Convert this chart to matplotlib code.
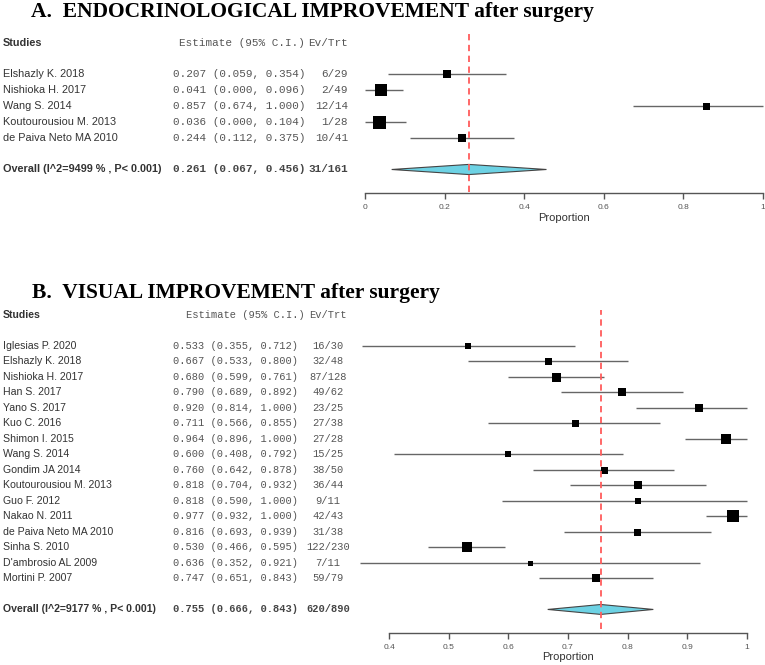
import matplotlib
matplotlib.use("Agg")
import matplotlib.pyplot as plt
from matplotlib.patches import Polygon
from matplotlib.transforms import blended_transform_factory

# ---- Panel A: endocrinological improvement ----
a_studies = ["Elshazly K. 2018", "Nishioka H. 2017", "Wang S. 2014",
             "Koutourousiou M. 2013", "de Paiva Neto MA 2010"]
a_est = [0.207, 0.041, 0.857, 0.036, 0.244]
a_lo = [0.059, 0.000, 0.674, 0.000, 0.112]
a_hi = [0.354, 0.096, 1.000, 0.104, 0.375]
a_ev = ["6/29", "2/49", "12/14", "1/28", "10/41"]
a_weight = [59, 161, 49, 169, 69]
a_overall = (0.261, 0.067, 0.456)
a_overall_ev = "31/161"
a_overall_label = "Overall (I^2=9499 % , P< 0.001)"
a_ticks = [0, 0.2, 0.4, 0.6, 0.8, 1]
a_ticklabels = ["0", "0.2", "0.4", "0.6", "0.8", "1"]

# ---- Panel B: visual improvement ----
b_studies = ["Iglesias P. 2020", "Elshazly K. 2018", "Nishioka H. 2017",
             "Han S. 2017", "Yano S. 2017", "Kuo C. 2016", "Shimon I. 2015",
             "Wang S. 2014", "Gondim JA 2014", "Koutourousiou M. 2013",
             "Guo F. 2012", "Nakao N. 2011", "de Paiva Neto MA 2010",
             "Sinha S. 2010", "D'ambrosio AL 2009", "Mortini P. 2007"]
b_est = [0.533, 0.667, 0.680, 0.790, 0.920, 0.711, 0.964, 0.600,
         0.760, 0.818, 0.818, 0.977, 0.816, 0.530, 0.636, 0.747]
b_lo = [0.355, 0.533, 0.599, 0.689, 0.814, 0.566, 0.896, 0.408,
        0.642, 0.704, 0.590, 0.932, 0.693, 0.466, 0.352, 0.651]
b_hi = [0.712, 0.800, 0.761, 0.892, 1.000, 0.855, 1.000, 0.792,
        0.878, 0.932, 1.000, 1.000, 0.939, 0.595, 0.921, 0.843]
b_ev = ["16/30", "32/48", "87/128", "49/62", "23/25", "27/38", "27/28",
        "15/25", "38/50", "36/44", "9/11", "42/43", "31/38", "122/230",
        "7/11", "59/79"]
b_weight = [40, 49, 81, 59, 64, 49, 106, 28, 49, 59, 32, 161, 49, 94, 25, 59]
b_overall = (0.755, 0.666, 0.843)
b_overall_ev = "620/890"
b_overall_label = "Overall (I^2=9177 % , P< 0.001)"
b_ticks = [0.4, 0.5, 0.6, 0.7, 0.8, 0.9, 1]
b_ticklabels = ["0.4", "0.5", "0.6", "0.7", "0.8", "0.9", "1"]

W, H = 765, 665
DPI = 100
fig = plt.figure(figsize=(W / DPI, H / DPI), dpi=DPI)

SANS = "Liberation Sans"
MONO = "Liberation Mono"
SERIF = "Liberation Serif"


def px_axes(left, top, right, bottom):
    return fig.add_axes([left / W, 1 - bottom / H, (right - left) / W, (bottom - top) / H])


def forest(ax, studies, est, lo, hi, ev, weight, overall, overall_ev, overall_label,
           ticks, ticklabels, xlim, ylim, name_fs, mono_fs, ev_x, ev_ha):
    n = len(studies)
    ax.set_xlim(*xlim)
    ax.set_ylim(*ylim)
    tr = blended_transform_factory(fig.transFigure, ax.transData)

    for i in range(n):
        ax.plot([lo[i], hi[i]], [i, i], color="#666666", lw=1.0, clip_on=False,
                solid_capstyle="butt", zorder=2)
        side = weight[i] ** 0.5  # pixel side of the box
        ax.plot(est[i], i, marker="s", color="black", mew=0,
                markersize=side * 72 / DPI, clip_on=False, zorder=3)
        ax.text(3 / W, i, studies[i], transform=tr, ha="left", va="center",
                fontsize=name_fs, family=SANS, color="#333333")
        ax.text(173 / W, i, f"{est[i]:.3f} ({lo[i]:.3f}, {hi[i]:.3f})", transform=tr,
                ha="left", va="center", fontsize=mono_fs, family=MONO, color="#555555")
        ax.text(ev_x / W, i, ev[i], transform=tr, ha=ev_ha, va="center",
                fontsize=mono_fs, family=MONO, color="#555555")

    yo = n + 1
    e, l, h = overall
    dh = 0.32
    ax.add_patch(Polygon([(l, yo), (e, yo - dh), (h, yo), (e, yo + dh)], closed=True,
                         facecolor="#6dd2e4", edgecolor="#444444", lw=0.8, zorder=3))
    ax.text(3 / W, yo, overall_label, transform=tr, ha="left", va="center",
            fontsize=name_fs, family=SANS, weight="bold", color="#333333")
    ax.text(173 / W, yo, f"{e:.3f} ({l:.3f}, {h:.3f})", transform=tr, ha="left",
            va="center", fontsize=mono_fs, family=MONO, weight="bold", color="#444444")
    ax.text(ev_x / W, yo, overall_ev, transform=tr, ha=ev_ha, va="center",
            fontsize=mono_fs, family=MONO, weight="bold", color="#444444")

    # headers
    ax.text(3 / W, -2, "Studies", transform=tr, ha="left", va="center",
            fontsize=name_fs, family=SANS, weight="bold", color="#333333")
    ax.text(305 / W, -2, "Estimate (95% C.I.)", transform=tr, ha="right", va="center",
            fontsize=mono_fs, family=MONO, color="#555555")
    ax.text(ev_x / W, -2, "Ev/Trt", transform=tr, ha=ev_ha, va="center",
            fontsize=mono_fs, family=MONO, color="#555555")

    ax.axvline(e, ymin=0.01, ymax=1, color="#ff5c5c", lw=1.3, ls=(0, (3.5, 2.5)), zorder=4)

    for s in ["top", "left", "right"]:
        ax.spines[s].set_visible(False)
    ax.spines["bottom"].set_bounds(ticks[0], ticks[-1])
    ax.spines["bottom"].set_color("#555555")
    ax.spines["bottom"].set_linewidth(1.0)
    ax.set_yticks([])
    ax.set_xticks(ticks)
    ax.set_xticklabels(ticklabels, family=SANS, fontsize=6, color="#555555")
    ax.tick_params(axis="x", length=4, width=1.0, color="#555555", pad=4)
    ax.set_xlabel("Proportion", family=SANS, fontsize=8, color="#333333", labelpad=1)
    ax.patch.set_visible(False)


# Panel A
axA = px_axes(365, 33, 763, 193.3)
forest(axA, a_studies, a_est, a_lo, a_hi, a_ev, a_weight, a_overall, a_overall_ev,
       a_overall_label, a_ticks, a_ticklabels, (0, 1), (7.5, -2.6), 7.8, 7.9, 348, "right")
fig.text(31 / W, 1 - 12 / H, "A.  ENDOCRINOLOGICAL IMPROVEMENT after surgery",
         ha="left", va="center", family=SERIF, weight="bold", fontsize=15.5, color="black")

# Panel B
axB = px_axes(389, 310, 747, 632.7)
forest(axB, b_studies, b_est, b_lo, b_hi, b_ev, b_weight, b_overall, b_overall_ev,
       b_overall_label, b_ticks, b_ticklabels, (0.4, 1), (18.5, -2.32), 7.6, 7.5, 328, "center")
fig.text(32 / W, 1 - 293 / H, "B.  VISUAL IMPROVEMENT after surgery",
         ha="left", va="center", family=SERIF, weight="bold", fontsize=15.5, color="black")

fig.savefig("out.png", dpi=DPI)
